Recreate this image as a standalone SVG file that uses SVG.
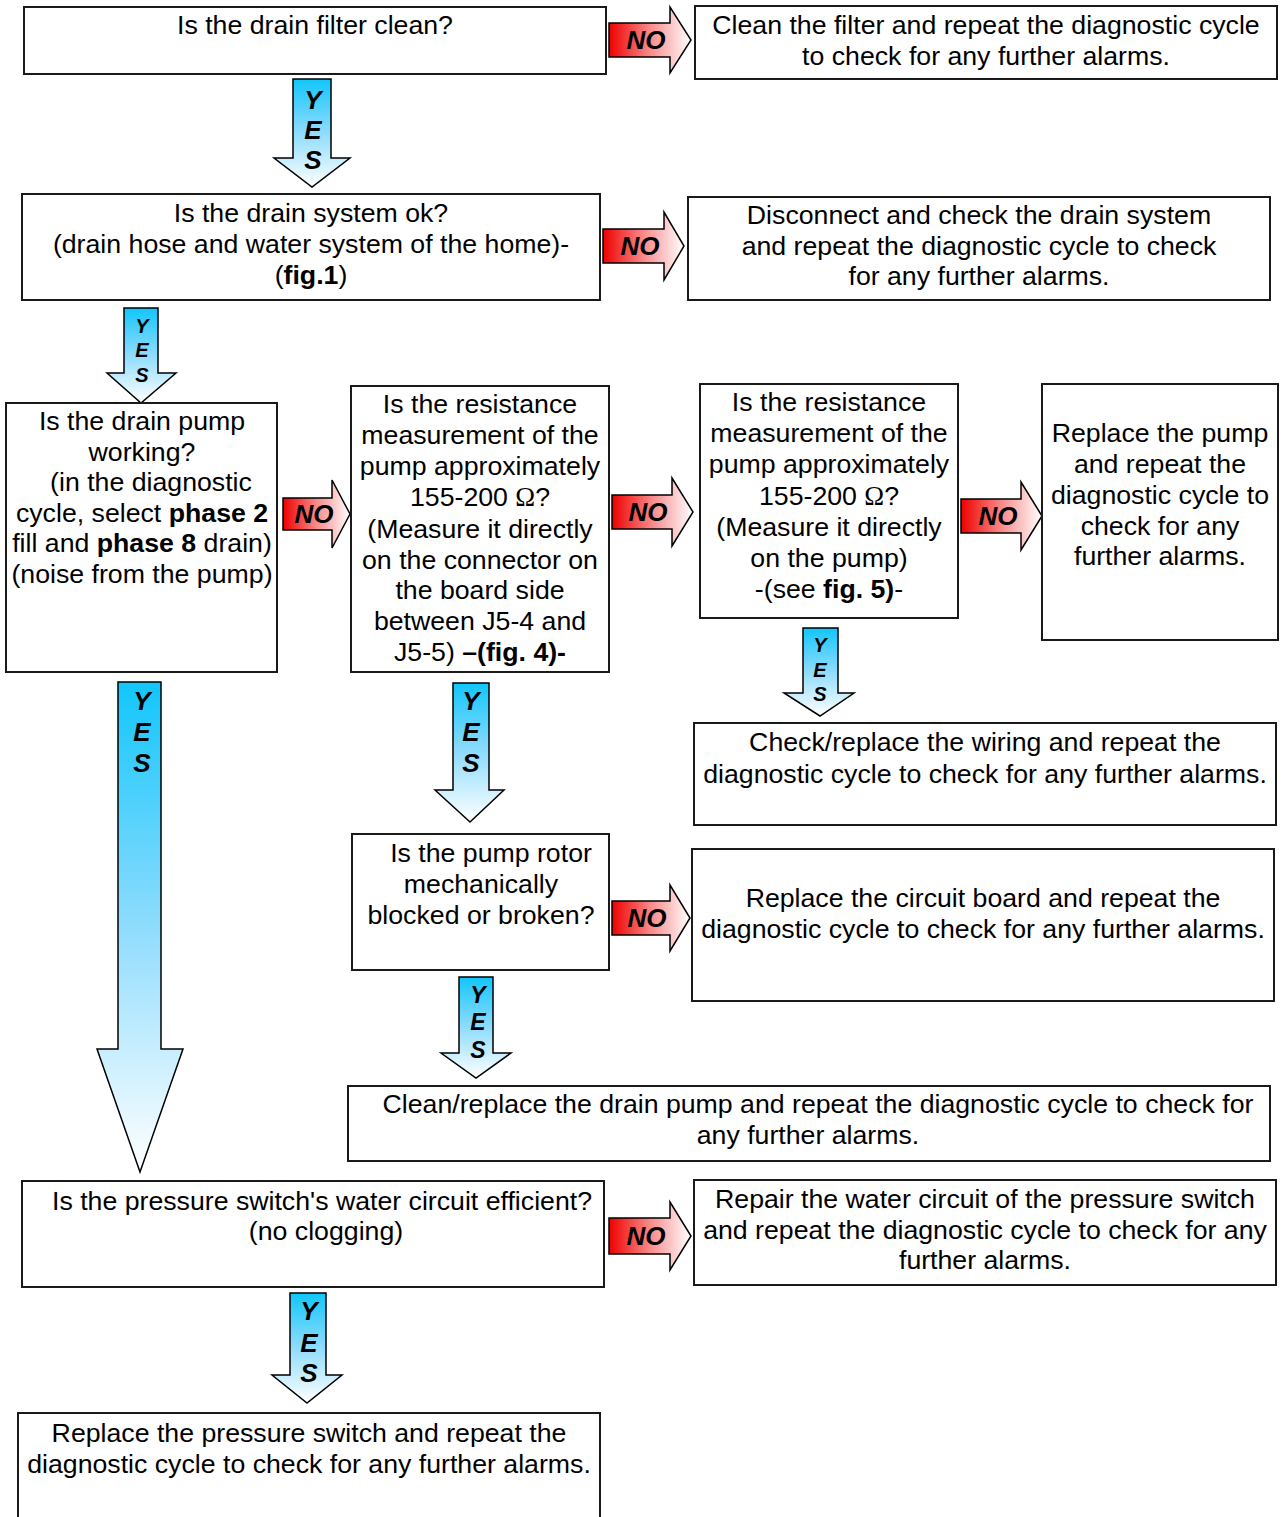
<svg xmlns="http://www.w3.org/2000/svg" width="1284" height="1517" viewBox="0 0 1284 1517">
<defs>
<linearGradient id="gNo" x1="0" y1="0" x2="1" y2="0">
<stop offset="0" stop-color="#ee0000"/>
<stop offset="0.5" stop-color="#f98a8a"/>
<stop offset="1" stop-color="#ffffff"/>
</linearGradient>
<linearGradient id="gYes" x1="0" y1="0" x2="0" y2="1">
<stop offset="0" stop-color="#12c6fb"/>
<stop offset="0.5" stop-color="#8fdcfd"/>
<stop offset="1" stop-color="#ffffff"/>
</linearGradient>
<style>
.box{fill:#fff;stroke:#1a1a1a;stroke-width:2}
.t{font-family:"Liberation Sans",Arial,sans-serif;font-size:26.7px;fill:#000;text-anchor:middle}
.b{font-weight:bold}
.om{font-family:"Liberation Serif","Times New Roman",serif}
.no{fill:url(#gNo);stroke:#000;stroke-width:1.5;stroke-linejoin:miter}
.yes{fill:url(#gYes);stroke:#000;stroke-width:1.5;stroke-linejoin:miter}
.lbl{font-family:"Liberation Sans",Arial,sans-serif;font-weight:bold;font-style:italic;fill:#000;text-anchor:middle;font-size:26px}
.sm{font-size:20px}
.md{font-size:23px}
</style>
</defs>
<rect width="1284" height="1517" fill="#fff"/>

<g id="connectors">
<g id="no1"><polygon class="no" points="609,23 670,23 670,7 691,40 670,73 670,57 609,57"/><text class="lbl" x="646" y="49">NO</text></g>
<g id="no2"><polygon class="no" points="603,229 664,229 664,212 684,246 664,280 664,263 603,263"/><text class="lbl" x="640" y="255">NO</text></g>
<g id="no3"><polygon class="no" points="283,498 332,498 332,480 350,514 332,548 332,530 283,530"/><text class="lbl" x="314" y="523">NO</text></g>
<g id="no4"><polygon class="no" points="612,495 672,495 672,478 693,512 672,546 672,529 612,529"/><text class="lbl" x="648" y="521">NO</text></g>
<g id="no5"><polygon class="no" points="961,499 1021,499 1021,482 1042,516 1021,550 1021,533 961,533"/><text class="lbl" x="998" y="525">NO</text></g>
<g id="no8"><polygon class="no" points="612,901 670,901 670,885 690,918 670,951 670,935 612,935"/><text class="lbl" x="647" y="927">NO</text></g>
<g id="no11"><polygon class="no" points="609,1218 670,1218 670,1202 691,1236 670,1270 670,1254 609,1254"/><text class="lbl" x="646" y="1245">NO</text></g>

<g id="yes1"><polygon class="yes" points="293,79 331,79 331,158 350,158 312,187 274,158 293,158"/>
<text class="lbl" x="313" y="109">Y</text><text class="lbl" x="313" y="139">E</text><text class="lbl" x="313" y="169">S</text></g>
<g id="yes2"><polygon class="yes" points="124,308 158,308 158,373 176,373 141,403 107,373 124,373"/>
<text class="lbl sm" x="142" y="333">Y</text><text class="lbl sm" x="142" y="357">E</text><text class="lbl sm" x="142" y="382">S</text></g>
<g id="yes3"><polygon class="yes" points="118,682 161,682 161,1049 183,1049 140,1172 97,1049 118,1049"/>
<text class="lbl" x="142" y="710">Y</text><text class="lbl" x="142" y="741">E</text><text class="lbl" x="142" y="772">S</text></g>
<g id="yes4"><polygon class="yes" points="453,683 489,683 489,790 504,790 470,822 435,790 453,790"/>
<text class="lbl" x="471" y="710">Y</text><text class="lbl" x="471" y="741">E</text><text class="lbl" x="471" y="772">S</text></g>
<g id="yes5"><polygon class="yes" points="803,628 838,628 838,693 854,693 820,716 784,693 803,693"/>
<text class="lbl sm" x="820" y="652">Y</text><text class="lbl sm" x="820" y="677">E</text><text class="lbl sm" x="820" y="701">S</text></g>
<g id="yes8"><polygon class="yes" points="459,977 493,977 493,1053 511,1053 476,1078 441,1053 459,1053"/>
<text class="lbl md" x="478" y="1003">Y</text><text class="lbl md" x="478" y="1030">E</text><text class="lbl md" x="478" y="1058">S</text></g>
<g id="yes11"><polygon class="yes" points="290,1293 326,1293 326,1375 342,1375 307,1403 272,1375 290,1375"/>
<text class="lbl" x="309" y="1320">Y</text><text class="lbl" x="309" y="1352">E</text><text class="lbl" x="309" y="1382">S</text></g>
</g>

<g id="n1"><rect class="box" x="24" y="7" width="582" height="67"/>
<text class="t" x="315" y="34">Is the drain filter clean?</text></g>

<g id="n1no"><rect class="box" x="695" y="6" width="582" height="73"/>
<text class="t" x="986" y="34">Clean the filter and repeat the diagnostic cycle</text>
<text class="t" x="986" y="65">to check for any further alarms.</text></g>

<g id="n2"><rect class="box" x="22" y="194" width="578" height="106"/>
<text class="t" x="311" y="222">Is the drain system ok?</text>
<text class="t" x="311" y="253">(drain hose and water system of the home)-</text>
<text class="t" x="311" y="284">(<tspan class="b">fig.1</tspan>)</text></g>

<g id="n2no"><rect class="box" x="688" y="197" width="582" height="103"/>
<text class="t" x="979" y="224">Disconnect and check the drain system</text>
<text class="t" x="979" y="255">and repeat the diagnostic cycle to check</text>
<text class="t" x="979" y="285">for any further alarms.</text></g>

<g id="n3"><rect class="box" x="6" y="403" width="271" height="269"/>
<text class="t" x="142" y="430">Is the drain pump</text>
<text class="t" x="142" y="461">working?</text>
<text class="t" x="151" y="491">(in the diagnostic</text>
<text class="t" x="142" y="522">cycle, select <tspan class="b">phase 2</tspan></text>
<text class="t" x="142" y="552">fill and <tspan class="b">phase 8</tspan> drain)</text>
<text class="t" x="142" y="583">(noise from the pump)</text></g>

<g id="n4"><rect class="box" x="351" y="386" width="258" height="286"/>
<text class="t" x="480" y="413">Is the resistance</text>
<text class="t" x="480" y="444">measurement of the</text>
<text class="t" x="480" y="475">pump approximately</text>
<text class="t" x="480" y="506">155-200 <tspan class="om">Ω</tspan>?</text>
<text class="t" x="480" y="538">(Measure it directly</text>
<text class="t" x="480" y="569">on the connector on</text>
<text class="t" x="480" y="599">the board side</text>
<text class="t" x="480" y="630">between J5-4 and</text>
<text class="t" x="480" y="661">J5-5) <tspan class="b">–(fig. 4)-</tspan></text></g>

<g id="n5"><rect class="box" x="700" y="384" width="258" height="234"/>
<text class="t" x="829" y="411">Is the resistance</text>
<text class="t" x="829" y="442">measurement of the</text>
<text class="t" x="829" y="473">pump approximately</text>
<text class="t" x="829" y="505">155-200 <tspan class="om">Ω</tspan>?</text>
<text class="t" x="829" y="536">(Measure it directly</text>
<text class="t" x="829" y="567">on the pump)</text>
<text class="t" x="829" y="598">-(see <tspan class="b">fig. 5)</tspan>-</text></g>

<g id="n6"><rect class="box" x="1042" y="384" width="236" height="256"/>
<text class="t" x="1160" y="442">Replace the pump</text>
<text class="t" x="1160" y="473">and repeat the</text>
<text class="t" x="1160" y="504">diagnostic cycle to</text>
<text class="t" x="1160" y="535">check for any</text>
<text class="t" x="1160" y="565">further alarms.</text></g>

<g id="n7"><rect class="box" x="694" y="723" width="582" height="102"/>
<text class="t" x="985" y="751">Check/replace the wiring and repeat the</text>
<text class="t" x="985" y="783">diagnostic cycle to check for any further alarms.</text></g>

<g id="n8"><rect class="box" x="352" y="834" width="257" height="136"/>
<text class="t" x="491" y="862">Is the pump rotor</text>
<text class="t" x="481" y="893">mechanically</text>
<text class="t" x="481" y="924">blocked or broken?</text></g>

<g id="n9"><rect class="box" x="692" y="849" width="582" height="152"/>
<text class="t" x="983" y="907">Replace the circuit board and repeat the</text>
<text class="t" x="983" y="938">diagnostic cycle to check for any further alarms.</text></g>

<g id="n10"><rect class="box" x="348" y="1086" width="922" height="75"/>
<text class="t" x="818" y="1113">Clean/replace the drain pump and repeat the diagnostic cycle to check for</text>
<text class="t" x="808" y="1144">any further alarms.</text></g>

<g id="n11"><rect class="box" x="22" y="1181" width="582" height="106"/>
<text class="t" x="322" y="1210">Is the pressure switch's water circuit efficient?</text>
<text class="t" x="326" y="1240">(no clogging)</text></g>

<g id="n12"><rect class="box" x="694" y="1180" width="582" height="105"/>
<text class="t" x="985" y="1208">Repair the water circuit of the pressure switch</text>
<text class="t" x="985" y="1239">and repeat the diagnostic cycle to check for any</text>
<text class="t" x="985" y="1269">further alarms.</text></g>

<g id="n13"><rect class="box" x="18" y="1413" width="582" height="110"/>
<text class="t" x="309" y="1442">Replace the pressure switch and repeat the</text>
<text class="t" x="309" y="1473">diagnostic cycle to check for any further alarms.</text></g>
</svg>
